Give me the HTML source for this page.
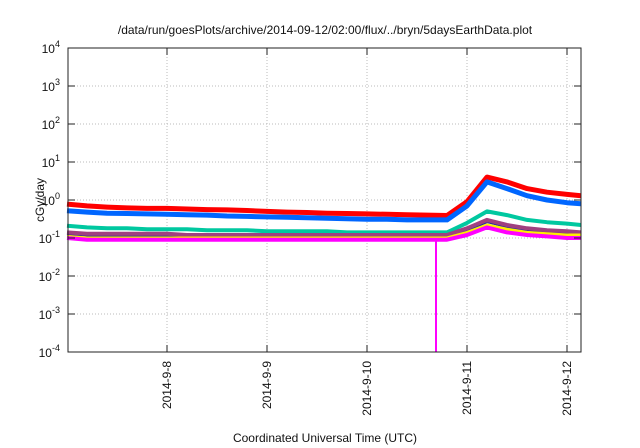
<!DOCTYPE html>
<html><head><meta charset="utf-8"><style>
html,body{margin:0;padding:0;background:#fff;}
svg{display:block;font-family:"Liberation Sans",sans-serif;}
</style></head><body>
<svg id="chart" width="640" height="448" viewBox="0 0 640 448" xmlns="http://www.w3.org/2000/svg">
<text x="325" y="34" font-size="12" text-anchor="middle" fill="#111">/data/run/goesPlots/archive/2014-09-12/02:00/flux/../bryn/5daysEarthData.plot</text>
<text transform="translate(44,200) rotate(-90)" font-size="12" text-anchor="middle" fill="#111">cGy/day</text>
<text x="325" y="442" font-size="12" text-anchor="middle" fill="#111">Coordinated Universal Time (UTC)</text>
<g id="grid"></g>
<g id="series"></g>
<rect x="68" y="48" width="513" height="304" fill="none" stroke="#222" stroke-width="1"/>
<g id="ticks"></g>
</svg>
<script>
const times=[0,0.2,0.4,0.6,0.8,1.0,1.2,1.4,1.6,1.8,2.0,2.2,2.4,2.6,2.8,3.0,3.2,3.4,3.6,3.8,4.0,4.2,4.4,4.6,4.8,5.0,5.14];
const red=[0.78,0.7,0.65,0.62,0.6,0.6,0.58,0.56,0.55,0.53,0.5,0.48,0.47,0.45,0.44,0.43,0.42,0.41,0.40,0.39,0.9,4.0,3.0,2.0,1.6,1.4,1.3];
const blue=[0.52,0.48,0.45,0.44,0.43,0.42,0.41,0.4,0.38,0.37,0.36,0.35,0.34,0.33,0.32,0.31,0.31,0.30,0.30,0.30,0.7,3.0,2.0,1.3,1.0,0.85,0.8];
const teal=[0.21,0.19,0.18,0.18,0.17,0.17,0.17,0.16,0.16,0.16,0.15,0.15,0.15,0.15,0.14,0.14,0.14,0.14,0.14,0.14,0.25,0.5,0.4,0.3,0.26,0.24,0.22];
const purple=[0.14,0.13,0.13,0.13,0.13,0.13,0.12,0.12,0.12,0.12,0.12,0.12,0.12,0.12,0.12,0.12,0.12,0.12,0.12,0.12,0.18,0.3,0.22,0.18,0.16,0.15,0.14];
const darkblue=[0.13,0.12,0.12,0.12,0.12,0.12,0.115,0.115,0.115,0.115,0.11,0.11,0.11,0.11,0.11,0.11,0.11,0.11,0.11,0.11,0.16,0.27,0.2,0.16,0.15,0.14,0.13];
const yellow=[0.11,0.1,0.1,0.1,0.1,0.1,0.1,0.1,0.1,0.1,0.1,0.1,0.1,0.1,0.1,0.1,0.1,0.1,0.1,0.1,0.14,0.22,0.17,0.14,0.13,0.12,0.12];
const magenta=[0.1,0.09,0.09,0.09,0.09,0.09,0.09,0.09,0.09,0.09,0.09,0.09,0.09,0.09,0.09,0.09,0.09,0.09,0.09,0.09,0.12,0.19,0.14,0.12,0.11,0.1,0.1];
const spikeT=[3.69];
const spikeV=[0.0001];
const xTickDays=[1,2,3,4,5];
const xTickLabels=["2014-9-8","2014-9-9","2014-9-10","2014-9-11","2014-9-12"];
const yTickExp=[-4,-3,-2,-1,0,1,2,3,4];

const NS="http://www.w3.org/2000/svg";
const L=68,R=581,T=48,B=352;
function xS(d){return 67+d*100;}
function yS(v){return 200-Math.log10(v)*38;}
function mk(tag,attrs,parent){const e=document.createElementNS(NS,tag);for(const k in attrs)e.setAttribute(k,attrs[k]);parent.appendChild(e);return e;}
const grid=document.getElementById('grid'),ticks=document.getElementById('ticks'),ser=document.getElementById('series'),svg=document.getElementById('chart');
yTickExp.forEach(ex=>{
  const y=yS(Math.pow(10,ex));
  if(ex>-4&&ex<4){const g=mk('line',{x1:L,x2:R,y1:y,y2:y,stroke:'#bbb','stroke-dasharray':'1,2'},grid);
  
  }
  const t1=mk('line',{x1:L,x2:L+7,y1:y,y2:y,stroke:'#222'},ticks);
  
  
  const t2=mk('line',{x1:R-7,x2:R,y1:y,y2:y,stroke:'#222'},ticks);
  
  
  const tx=mk('text',{x:60,y:y+5,'font-size':12,'text-anchor':'end',fill:'#111'},ticks);
  
  
  tx.textContent='10';
  const sp=mk('tspan',{dy:-6,'font-size':9},tx);sp.textContent=String(ex);
});
xTickDays.forEach((d,i)=>{
  const x=xS(d);
  const g=mk('line',{x1:x,x2:x,y1:T,y2:B,stroke:'#bbb','stroke-dasharray':'1,2'},grid);
  
  
  const t1=mk('line',{x1:x,x2:x,y1:B-7,y2:B,stroke:'#222'},ticks);
  
  
  const t2=mk('line',{x1:x,x2:x,y1:T,y2:T+7,stroke:'#222'},ticks);
  
  
  const tx=mk('text',{transform:`translate(${x+4},361) rotate(-90)`,'font-size':12,'text-anchor':'end',fill:'#111'},ticks);
  
  
  tx.textContent=xTickLabels[i];
});
const allSeries=[[red,'#ff0000',5,'series-red'],[blue,'#0066ff',5,'series-blue'],[teal,'#00c8a0',4,'series-teal'],[darkblue,'#2030a0',3,'series-darkblue'],[purple,'#a04080',4,'series-purple'],[yellow,'#ffee00',3,'series-yellow'],[magenta,'#ff00ff',4,'series-magenta']];
allSeries.forEach(([vals,col,w,name])=>{
  const pts=vals.map((v,i)=>xS(times[i]).toFixed(1)+','+yS(v).toFixed(1)).join(' ');
  const p=mk('polyline',{points:pts,fill:'none',stroke:col,'stroke-width':w,'stroke-linejoin':'round'},ser);
  
  
});
spikeT.forEach((t,i)=>{
  const x=xS(t);
  const s=mk('line',{x1:x,x2:x,y1:yS(0.09),y2:yS(spikeV[i]),stroke:'#ff00ff','stroke-width':2},ser);
  
  
});
</script>
</body></html>
